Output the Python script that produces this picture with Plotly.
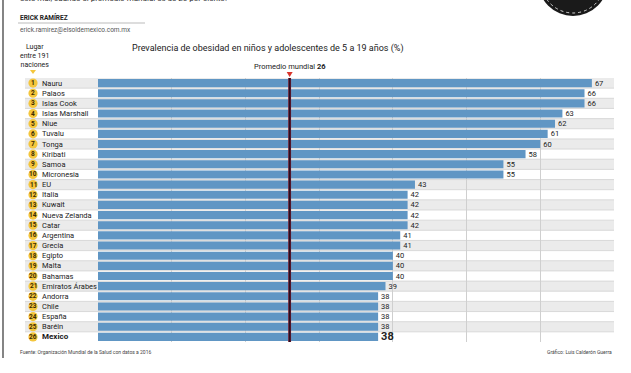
import plotly.graph_objects as go

ranks = list(range(1, 27))
countries = ["Nauru", "Palaos", "Islas Cook", "Islas Marshall", "Niue", "Tuvalu", "Tonga",
             "Kiribati", "Samoa", "Micronesia", "EU", "Italia", "Kuwait", "Nueva Zelanda",
             "Catar", "Argentina", "Grecia", "Egipto", "Malta", "Bahamas", "Emiratos Árabes",
             "Andorra", "Chile", "España", "Baréin", "Mexico"]
values = [67, 66, 66, 63, 62, 61, 60, 58, 55, 55, 43, 42, 42, 42, 42, 41, 41, 40, 40, 40,
          39, 38, 38, 38, 38, 38]
world_avg = 26
highlight = "Mexico"

W, H = 631, 373
ML, MR, MT, MB = 98, 17, 78, 31
PW, PH = W - ML - MR, H - MT - MB
XMAX = 70

def px(X):
    return (X - ML) / PW

def py(Y):
    return (H - MB - Y) / PH

FONT = "Roboto"
BAR = "#6096c4"
YEL = "#f4c63d"

fig = go.Figure()

texts = [f"<b>{v}</b>" if c == highlight else str(v) for c, v in zip(countries, values)]
sizes = [11 if c == highlight else 7.5 for c in countries]
fig.add_trace(go.Bar(
    x=values, y=countries, orientation="h", marker=dict(color=BAR, line=dict(width=0)),
    text=texts, textposition="outside", textfont=dict(size=sizes, color="#222", family=FONT),
    constraintext="none", cliponaxis=False, hoverinfo="skip",
))

shapes = []
annotations = []
n = len(countries)
for i, (r, c) in enumerate(zip(ranks, countries)):
    if i % 2 == 0:
        shapes.append(dict(type="rect", xref="paper", yref="y", x0=px(25), x1=1.0,
                           y0=i - 0.5, y1=i + 0.5, fillcolor="#ebebeb", line=dict(width=0),
                           layer="below"))
    if i > 0:
        shapes.append(dict(type="line", xref="paper", yref="y", x0=px(25), x1=1.0,
                           y0=i - 0.5, y1=i - 0.5, line=dict(color="#d2d2d2", width=0.8),
                           layer="below"))
    # rank circle
    shapes.append(dict(type="circle", xref="paper", yref="y", xsizemode="pixel",
                       ysizemode="pixel", xanchor=px(33), yanchor=c, x0=-4.6, x1=4.6,
                       y0=-4.6, y1=4.6, fillcolor=YEL, line=dict(width=0)))
    annotations.append(dict(x=px(33), y=c, xref="paper", yref="y", text=f"<b>{r}</b>",
                            showarrow=False, xanchor="center", yanchor="middle",
                            font=dict(size=6.5, color="#3a2a00", family=FONT)))
    label = f"<b>{c}</b>" if c == highlight else c
    annotations.append(dict(x=px(40), y=c, xref="paper", yref="y", text=label, showarrow=False,
                            xanchor="left", yanchor="middle",
                            font=dict(size=8 if c == highlight else 7.5, color="#1a1a1a",
                                      family=FONT)))

# average line
shapes.append(dict(type="line", xref="x", yref="paper", x0=world_avg, x1=world_avg, y0=0, y1=1,
                   line=dict(color="#9a2a3a", width=2.8)))
shapes.append(dict(type="line", xref="x", yref="paper", x0=world_avg, x1=world_avg, y0=0, y1=1,
                   line=dict(color="#2a0c20", width=2)))
d = 3.0 / PW * XMAX
shapes.append(dict(type="path", xref="x", yref="paper",
                   path=f"M {world_avg - d},{py(72)} L {world_avg + d},{py(72)} "
                        f"L {world_avg},{py(77)} Z",
                   fillcolor="#d9342b", line=dict(width=0)))
annotations.append(dict(x=world_avg, y=py(67), xref="x", yref="paper",
                        text=f"Promedio mundial <b>{world_avg}</b>", showarrow=False,
                        xanchor="center", yanchor="middle",
                        font=dict(size=7.5, color="#222", family=FONT)))

# header texts
annotations.append(dict(x=px(268), y=py(48), xref="paper", yref="paper",
                        text="Prevalencia de obesidad en niños y adolescentes de 5 a 19 años (%)",
                        showarrow=False, xanchor="center", yanchor="middle",
                        font=dict(size=9, color="#1a1a1a", family=FONT)))
annotations.append(dict(x=px(34), y=py(56), xref="paper", yref="paper",
                        text="Lugar<br>entre 191<br>naciones", showarrow=False,
                        xanchor="center", yanchor="middle", align="center",
                        font=dict(size=7, color="#1a1a1a", family=FONT)))
shapes.append(dict(type="path", xref="paper", yref="paper",
                   path=f"M {px(30)},{py(70)} L {px(36)},{py(70)} L {px(33)},{py(74)} Z",
                   fillcolor=YEL, line=dict(width=0)))
annotations.append(dict(x=px(18), y=py(-1), xref="paper", yref="paper",
                        text="este mal, cuando el promedio mundial es de 26 por ciento.",
                        showarrow=False, xanchor="left", yanchor="middle",
                        font=dict(size=8, color="#333", family=FONT)))
annotations.append(dict(x=px(18), y=py(17), xref="paper", yref="paper", text="<b>ERICK RAMÍREZ</b>",
                        showarrow=False, xanchor="left", yanchor="middle",
                        font=dict(size=6.5, color="#222", family=FONT)))
annotations.append(dict(x=px(18), y=py(30), xref="paper", yref="paper",
                        text="erick.ramirez@elsoldemexico.com.mx", showarrow=False,
                        xanchor="left", yanchor="middle",
                        font=dict(size=6.5, color="#555", family=FONT)))
annotations.append(dict(x=px(18), y=py(352), xref="paper", yref="paper",
                        text="Fuente: Organización Mundial de la Salud con datos a 2016",
                        showarrow=False, xanchor="left", yanchor="middle",
                        font=dict(size=5, color="#444", family=FONT)))
annotations.append(dict(x=px(614), y=py(352), xref="paper", yref="paper",
                        text="Gráfico: Luis Calderón Guerra", showarrow=False,
                        xanchor="right", yanchor="middle",
                        font=dict(size=5, color="#444", family=FONT)))

# decorations
shapes.append(dict(type="line", xref="paper", yref="paper", x0=px(18), x1=px(145),
                   y0=py(23), y1=py(23), line=dict(color="#aaaaaa", width=0.8)))
shapes.append(dict(type="line", xref="paper", yref="paper", x0=px(3), x1=px(3),
                   y0=py(358), y1=py(0), line=dict(color="#333", width=1.2)))
shapes.append(dict(type="circle", xref="paper", yref="paper", x0=px(538), x1=px(608),
                   y0=py(16), y1=py(-54), fillcolor="#1a1a1a", line=dict(width=0)))
shapes.append(dict(type="circle", xref="paper", yref="paper", x0=px(541), x1=px(605),
                   y0=py(13), y1=py(-51), line=dict(color="white", width=0.8, dash="dot")))

fig.update_layout(
    width=W, height=H, margin=dict(l=ML, r=MR, t=MT, b=MB),
    paper_bgcolor="white", plot_bgcolor="rgba(0,0,0,0)",
    showlegend=False, bargap=0.2,
    xaxis=dict(range=[0, XMAX], showgrid=True, gridcolor="#cfcfcf", gridwidth=1, dtick=10,
               showticklabels=False, zeroline=False, ticks="", fixedrange=True),
    yaxis=dict(categoryorder="array", categoryarray=countries,
               range=[n - 0.5, -0.5], showticklabels=False, showgrid=False, zeroline=False,
               ticks="", fixedrange=True),
    shapes=shapes, annotations=annotations,
    font=dict(family=FONT),
)

fig.write_html("out.html", config={"displayModeBar": False},
               post_script="document.body.style.margin='0';")
